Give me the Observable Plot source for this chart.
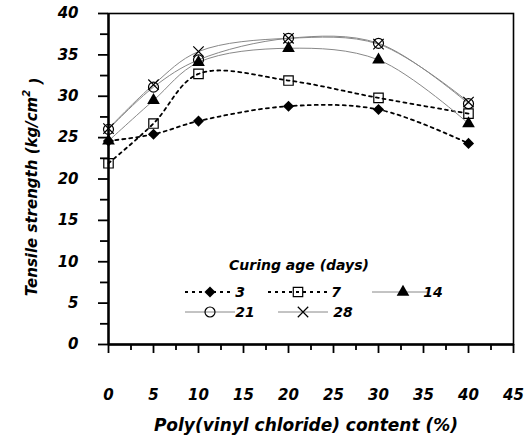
<!DOCTYPE html>
<html>
<head>
<meta charset="utf-8">
<script src="https://cdn.jsdelivr.net/npm/d3@7"></script>
<script src="https://cdn.jsdelivr.net/npm/@observablehq/plot@0.6"></script>
<style>
  html, body { margin: 0; padding: 0; background: #fff; }
  #chart { position: relative; width: 527px; height: 437px; }
  #chart svg text { font-family: 'DejaVu Sans', sans-serif; font-weight: bold; font-style: italic; fill: #000; }
  #chart svg g[aria-label="x-axis tick label"] text,
  #chart svg g[aria-label="y-axis tick label"] text { font-size: 15px; }
</style>
</head>
<body>
<div id="chart"></div>
<script>
// ---- data ----
const pvcContent = [0, 5, 10, 20, 30, 40];
const curingAges = ["3", "7", "14", "21", "28"];
const strength3  = [24.6, 25.4, 27.0, 28.8, 28.4, 24.3];
const strength7  = [21.9, 26.7, 32.7, 31.9, 29.8, 27.9];
const strength14 = [24.6, 29.5, 34.1, 35.8, 34.4, 26.7];
const strength21 = [26.0, 31.1, 34.4, 37.0, 36.4, 29.1];
const strength28 = [26.1, 31.4, 35.4, 37.0, 36.3, 29.3];
const xTicks = [0, 5, 10, 15, 20, 25, 30, 35, 40, 45];
const yTicks = [0, 5, 10, 15, 20, 25, 30, 35, 40];
const xTitle = "Poly(vinyl chloride) content (%)";
const yTitle = "Tensile strength (kg/cm";
const legendTitle = "Curing age (days)";

// ---- build table ----
const seriesValues = [strength3, strength7, strength14, strength21, strength28];
const rows = [];
curingAges.forEach((age, i) => {
  pvcContent.forEach((x, j) => rows.push({age, x, y: seriesValues[i][j]}));
});

// ---- styles per series ----
const styles = {
  "3":  {stroke: "#000", dash: "3,4", width: 1.8, symbol: "diamond2", fill: "#000", mstroke: "none", r: 5.0},
  "7":  {stroke: "#000", dash: "3,4", width: 1.8, symbol: "square2", fill: "none", mstroke: "#000", r: 6.0},
  "14": {stroke: "#888", dash: null, width: 1, symbol: "triangle", fill: "#000", mstroke: "none", r: 4.7},
  "21": {stroke: "#888", dash: null, width: 1, symbol: "circle", fill: "none", mstroke: "#000", r: 5.0},
  "28": {stroke: "#888", dash: null, width: 1, symbol: "times", fill: "none", mstroke: "#000", r: 4.8}
};

const minorX = d3.range(2.5, 45, 5);
const minorY = d3.range(2.5, 40, 5);

const marks = [];
curingAges.forEach(age => {
  const s = styles[age];
  marks.push(Plot.line(rows.filter(d => d.age === age), {
    x: "x", y: "y", curve: "catmull-rom",
    stroke: s.stroke, strokeWidth: s.width, strokeDasharray: s.dash
  }));
});
curingAges.forEach(age => {
  const s = styles[age];
  marks.push(Plot.dot(rows.filter(d => d.age === age), {
    x: "x", y: "y", symbol: () => s.symbol, r: s.r,
    fill: s.fill, stroke: s.mstroke, strokeWidth: 1.2
  }));
});

const chart = Plot.plot({
  width: 527,
  height: 437,
  marginLeft: 108,
  marginRight: 14,
  marginTop: 13,
  marginBottom: 93,
  style: {fontSize: "15px", color: "#000", background: "#fff"},
  x: {domain: [0, 45]},
  y: {domain: [0, 40]},
  symbol: {type: "identity"},
  marks: [
    Plot.frame({stroke: "#000", strokeWidth: 1.6}),
    Plot.axisX(minorX, {tickSize: 6, text: null, strokeWidth: 1.8, label: null}),
    Plot.axisX(xTicks, {tickSize: 9, tickPadding: 36, strokeWidth: 1.8, label: null}),
    Plot.axisY(minorY, {tickSize: 8, text: null, strokeWidth: 1.8, label: null}),
    Plot.axisY(yTicks, {tickSize: 10, tickPadding: 20, strokeWidth: 1.8, label: null}),
    Plot.ruleX([0], {stroke: "#000", strokeWidth: 2.4}),
    Plot.ruleY([0], {stroke: "#000", strokeWidth: 2.4}),
    ...marks
  ]
});

document.getElementById("chart").appendChild(chart);

// ---- titles and legend (drawn onto the same svg) ----
const svg = d3.select(chart);

svg.append("text")
  .attr("x", 306).attr("y", 431)
  .attr("text-anchor", "middle")
  .style("font-size", "17px")
  .text(xTitle);

const yt = svg.append("text")
  .attr("transform", "translate(37,187) rotate(-90)")
  .attr("text-anchor", "middle")
  .style("font-size", "15px");
yt.append("tspan").text(yTitle);
yt.append("tspan").attr("dy", "-0.7em").style("font-size", "10px").text("2");
yt.append("tspan").attr("dy", "0.7em").text(" )");

const legendLayout = {
  titleX: 299, titleY: 270,
  items: {
    "3":  {y: 292, x1: 185, x2: 233, mx: 210, tx: 240},
    "7":  {y: 292, x1: 268, x2: 330, mx: 298, tx: 336},
    "14": {y: 292, x1: 372, x2: 427, mx: 403, tx: 433},
    "21": {y: 312, x1: 185, x2: 235, mx: 210, tx: 245},
    "28": {y: 312, x1: 278, x2: 328, mx: 303, tx: 343}
  }
};
const symMap = {diamond2: d3.symbolDiamond2, square2: d3.symbolSquare2, triangle: d3.symbolTriangle, circle: d3.symbolCircle, times: d3.symbolTimes};

svg.append("text")
  .attr("x", legendLayout.titleX).attr("y", legendLayout.titleY)
  .attr("text-anchor", "middle")
  .style("font-size", "14px")
  .text(legendTitle);

curingAges.forEach(age => {
  const s = styles[age], L = legendLayout.items[age];
  svg.append("line")
    .attr("x1", L.x1).attr("x2", L.x2).attr("y1", L.y).attr("y2", L.y)
    .attr("stroke", s.stroke).attr("stroke-width", s.width)
    .attr("stroke-dasharray", s.dash);
  svg.append("path")
    .attr("transform", `translate(${L.mx},${L.y})`)
    .attr("d", d3.symbol(symMap[s.symbol], s.r * s.r * Math.PI)())
    .attr("fill", s.fill).attr("stroke", s.mstroke).attr("stroke-width", 1.2);
  svg.append("text")
    .attr("x", L.tx).attr("y", L.y).attr("dy", "0.35em")
    .style("font-size", "14px")
    .text(age);
});
</script>
</body>
</html>
